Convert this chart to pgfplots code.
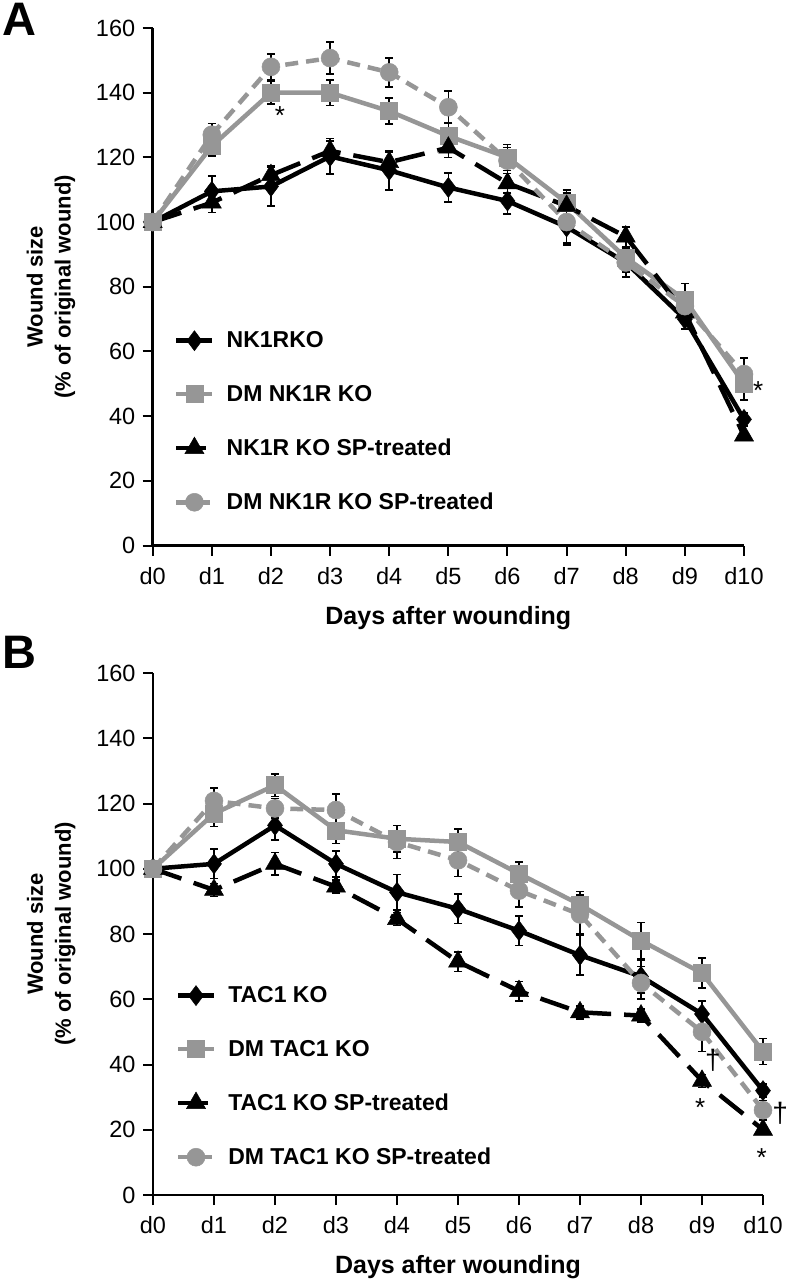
\documentclass[border=0pt]{standalone}
\usepackage{fontspec}
\setmainfont{Liberation Sans}
\usepackage{pgfplots}
\pgfplotsset{compat=1.18}
\definecolor{gr}{RGB}{150,150,150}
\pgfplotsset{
  legend image code/.code={\draw[mark repeat=2,mark phase=2,#1] plot coordinates {(0pt,0pt) (18pt,0pt) (36pt,0pt)};},
}
\pgfplotsset{
  panel/.style={
    scale only axis, clip=false,
    xmin=0, xmax=10, ymin=0, ymax=160,
    axis lines=left,
    axis line style={line width=2.5pt, -},
    xtick={0,1,...,10},
    xticklabels={d0,d1,d2,d3,d4,d5,d6,d7,d8,d9,d10},
    ytick={0,20,...,160},
    tick align=outside,
    major tick length=10pt,
    tick style={black, line width=2pt},
    tick label style={font=\fontsize{23.5}{27}\selectfont},
    xticklabel style={yshift=-8pt},
    yticklabel style={xshift=-4pt},
    /pgf/number format/assume math mode=true,
    xlabel={Days after wounding},
    ylabel={Wound size\\(\% of original wound)},
    xlabel style={font=\bfseries\fontsize{25}{30}\selectfont, anchor=center},
    ylabel style={font=\bfseries\fontsize{22}{28}\selectfont, align=center, anchor=center},
    legend cell align=left,
    legend style={draw=none, fill=none, inner sep=0pt, row sep=32pt, anchor=north west,
      font=\bfseries\fontsize{23}{27}\selectfont,
      /tikz/every odd column/.append style={column sep=10pt}},
  },
  eb/.style={
    /pgfplots/error bars/y dir=both,
    /pgfplots/error bars/y explicit,
    /pgfplots/error bars/error bar style={black, line width=1.6pt, solid},
    /pgfplots/error bars/error mark options={rotate=90, black, mark size=4pt, line width=1.6pt, solid},
  },
  s1/.style={black, line width=4.5pt, mark=diamond*, mark size=10pt, mark options={solid, line width=0.5pt}},
  s2/.style={gr, line width=4.5pt, mark=square*, mark size=8.5pt, mark options={solid, line width=0.5pt}},
  s3/.style={black, line width=4.5pt, dash pattern=on 30pt off 13pt, mark=triangle*, mark size=11pt, mark options={solid, line width=0.5pt}},
  s4/.style={gr, line width=4.5pt, dash pattern=on 13pt off 8pt, mark=*, mark size=9pt, mark options={solid, line width=0.5pt}},
}
\begin{document}
\begin{tikzpicture}
\useasboundingbox (0pt,0pt) rectangle (788pt,-1284pt);
\node[anchor=north west, inner sep=0pt, font=\bfseries\fontsize{47}{52}\selectfont] at (2pt,-3pt) {A};
\node[anchor=north west, inner sep=0pt, font=\bfseries\fontsize{47}{52}\selectfont] at (2pt,-636pt) {B};
% Panel A
\begin{axis}[panel, at={(152.7pt,-545.5pt)}, anchor=south west, width=591.3pt, height=517.5pt,
  xlabel style={at={(axis description cs:0.5,-0.140)}},
  ylabel style={at={(axis description cs:-0.172,0.5)}},
  legend style={at={(0.036,0.417)}}]
\addplot[s1, eb] table[x=d, y=v, y error=e] {
d v e
0 100 0
1 109.5 4.7
2 111 6
3 120.3 5.5
4 116 6
5 110.7 4.5
6 106.5 4
7 98.5 5
8 87.5 4.5
9 70 3
10 39 2
};
\addlegendentry{NK1RKO}
\addplot[s2, eb] table[x=d, y=v, y error=e] {
d v e
0 100 0
1 123.5 3
2 140 3.5
3 140 4
4 134.3 4
5 126.6 4
6 120 4
7 106 4
8 89 3
9 76 5
10 50 5
};
\addlegendentry{DM NK1R KO}
\addplot[s3, eb] table[x=d, y=v, y error=e] {
d v e
0 100 0
1 106 3
2 114.5 3
3 122 3
4 118.5 3
5 123 3
6 112 3
7 105 4
8 95.5 3
9 72 2
10 34 1
};
\addlegendentry{NK1R KO SP-treated}
\addplot[s4, eb] table[x=d, y=v, y error=e] {
d v e
0 100 0
1 127 3.5
2 148 4
3 150.7 5
4 146.3 4.5
5 135.5 5
6 119 4
7 100 7
8 87.5 3
9 74 3
10 53 5
};
\addlegendentry{DM NK1R KO SP-treated}
\node[font=\fontsize{26}{30}\selectfont] at (axis cs:2.15,133) {*};
\node[font=\fontsize{26}{30}\selectfont] at (axis cs:10.24,48) {*};
\end{axis}
% Panel B
\begin{axis}[panel, at={(153pt,-1195pt)}, anchor=south west, width=610pt, height=522pt,
  xlabel style={at={(axis description cs:0.5,-0.138)}},
  ylabel style={at={(axis description cs:-0.167,0.5)}},
  legend style={at={(0.037,0.403)}}]
\addplot[s1, eb] table[x=d, y=v, y error=e] {
d v e
0 100 0
1 101.5 4.5
2 113.3 4.5
3 101.5 4
4 92.8 5.5
5 87.7 4.5
6 81 4.5
7 73.5 6
8 67 5
9 55.5 4
10 32 2
};
\addlegendentry{TAC1 KO}
\addplot[s2, eb] table[x=d, y=v, y error=e] {
d v e
0 100 0
1 116.9 4
2 125.6 3.5
3 111.8 4
4 109.2 4
5 108.2 4
6 98.5 3.5
7 89 4
8 78 5.5
9 68 4.6
10 44 4
};
\addlegendentry{DM TAC1 KO}
\addplot[s3, eb] table[x=d, y=v, y error=e] {
d v e
0 100 0
1 93.5 2
2 101.5 3.5
3 94.5 2
4 84.6 2
5 71.5 3
6 62.5 3
7 56 2
8 55 2
9 35 2
10 20 1
};
\addlegendentry{TAC1 KO SP-treated}
\addplot[s4, eb] table[x=d, y=v, y error=e] {
d v e
0 100 0
1 120.8 4
2 118.5 3
3 118 5
4 108.2 5
5 102.6 5
6 93.3 5
7 86 6
8 65 5
9 50 6
10 26 3
};
\addlegendentry{DM TAC1 KO SP-treated}
\node[font=\fontsize{28}{32}\selectfont] at (axis cs:9.18,41.4) {†};
\node[font=\fontsize{26}{30}\selectfont] at (axis cs:8.97,26.7) {*};
\node[font=\fontsize{28}{32}\selectfont] at (axis cs:10.28,25.1) {†};
\node[font=\fontsize{26}{30}\selectfont] at (axis cs:9.98,11.6) {*};
\end{axis}
\end{tikzpicture}
\end{document}
